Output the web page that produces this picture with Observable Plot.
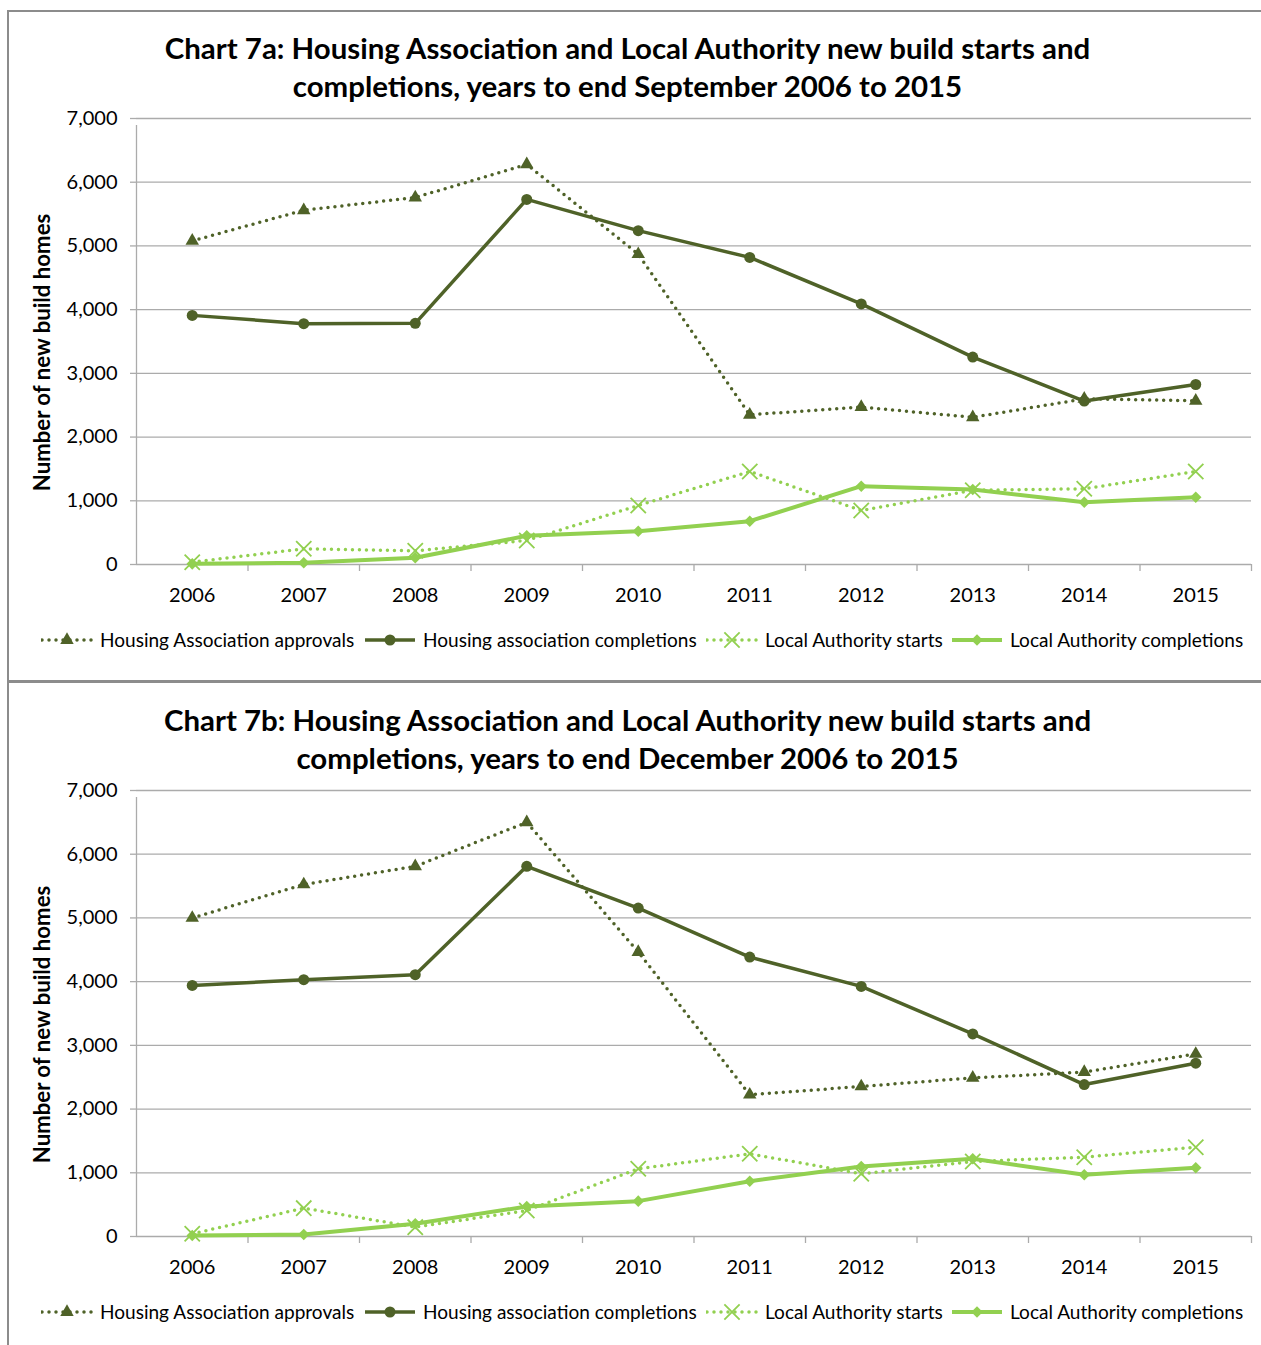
<!DOCTYPE html>
<html>
<head>
<meta charset="utf-8">
<script src="https://cdn.jsdelivr.net/npm/d3@7"></script>
<script src="https://cdn.jsdelivr.net/npm/@observablehq/plot@0.6"></script>
<style>
  html, body { margin: 0; padding: 0; background: #fff; }
  body { width: 1261px; height: 1345px; position: relative; overflow: hidden; font-family: Lato, "Open Sans", sans-serif; color: #000; }
  .abs { position: absolute; white-space: nowrap; }
  .frame { position: absolute; left: 7px; width: 1254px; border-left: 2px solid #8c8c8c; box-sizing: border-box; }
</style>
</head>
<body>
<script>
// ---------- data ----------
const years = [2006, 2007, 2008, 2009, 2010, 2011, 2012, 2013, 2014, 2015];
const yTicks = [0, 1000, 2000, 3000, 4000, 5000, 6000, 7000];
const seriesNames = [
  "Housing Association approvals",
  "Housing association completions",
  "Local Authority starts",
  "Local Authority completions"
];
const yLabel = "Number of new build homes";

// Chart 7a: years to end September
const titleA = ["Chart 7a: Housing Association and Local Authority new build starts and",
                "completions, years to end September 2006 to 2015"];
const haApprovalsSep   = [5080, 5560, 5760, 6280, 4870, 2350, 2470, 2310, 2600, 2570];
const haCompletionsSep = [3910, 3780, 3785, 5730, 5240, 4820, 4090, 3255, 2565, 2825];
const laStartsSep      = [36, 246, 215, 377, 926, 1460, 848, 1165, 1188, 1460];
const laCompletionsSep = [10, 26, 105, 450, 523, 680, 1229, 1177, 978, 1057];

// Chart 7b: years to end December
const titleB = ["Chart 7b: Housing Association and Local Authority new build starts and",
                "completions, years to end December 2006 to 2015"];
const haApprovalsDec   = [5000, 5525, 5810, 6500, 4465, 2225, 2355, 2490, 2580, 2865];
const haCompletionsDec = [3940, 4030, 4110, 5810, 5155, 4385, 3925, 3180, 2385, 2720];
const laStartsDec      = [42, 445, 147, 408, 1062, 1298, 984, 1177, 1245, 1402];
const laCompletionsDec = [16, 31, 199, 471, 555, 868, 1099, 1219, 968, 1078];

// ---------- styles ----------
const DARK = "#4f6228";
const LIGHT = "#92d050";
const GRID = "#ababab";
const FONT = "Lato";
const R = {tri: 5, circ: 5.5, x: 7, dia: 5.2};

const cv = document.createElement("canvas").getContext("2d");
function fit(text, weight, target) {
  cv.font = `${weight} 100px ${FONT}`;
  return 100 * target / cv.measureText(text).width;
}
const fsTitle = fit(titleA[0], "bold", 929);
const fsLegend = fit(seriesNames[0], "normal", 255);
const fsYLabel = fit(yLabel, "bold", 279);
const fsTick = 20;

function rows(vals) { return years.map((y, i) => ({year: y, value: vals[i]})); }

function addText(text, cx, cy, size, weight) {
  const d = document.createElement("div");
  d.className = "abs";
  d.textContent = text;
  const lh = Math.round(size * 1.3);
  d.style.cssText = `left:${cx - 1000}px;width:2000px;text-align:center;top:${cy - lh / 2}px;line-height:${lh}px;font-size:${size}px;font-weight:${weight};font-family:${FONT};`;
  document.body.appendChild(d);
}

function swatch(kind) {
  const ns = "http://www.w3.org/2000/svg";
  const svg = document.createElementNS(ns, "svg");
  svg.setAttribute("width", 52); svg.setAttribute("height", 20);
  svg.style.display = "block";
  const color = kind < 2 ? DARK : LIGHT;
  const ln = document.createElementNS(ns, "line");
  ln.setAttribute("x1", 1); ln.setAttribute("x2", 51); ln.setAttribute("y1", 10); ln.setAttribute("y2", 10);
  ln.setAttribute("stroke", color);
  ln.setAttribute("stroke-width", kind === 3 ? 4 : 3.5);
  if (kind === 0 || kind === 2) { ln.setAttribute("stroke-dasharray", "0 7"); ln.setAttribute("stroke-linecap", "round"); }
  svg.appendChild(ln);
  const sym = [d3.symbolTriangle, d3.symbolCircle, d3.symbolTimes, d3.symbolDiamond2][kind];
  const r = [R.tri, R.circ, R.x, R.dia][kind];
  const p = document.createElementNS(ns, "path");
  p.setAttribute("d", d3.symbol(sym, Math.PI * r * r)());
  p.setAttribute("transform", "translate(26,10)");
  if (kind === 2) { p.setAttribute("fill", "none"); p.setAttribute("stroke", color); p.setAttribute("stroke-width", 1.8); }
  else p.setAttribute("fill", color);
  svg.appendChild(p);
  return svg;
}

function legend(cy) {
  const xs = [42, 365, 707, 952];
  seriesNames.forEach((name, k) => {
    const d = document.createElement("div");
    d.className = "abs";
    d.style.cssText = `left:${xs[k] - 1}px;top:${cy - 10}px;height:20px;display:flex;align-items:center;gap:7px;`;
    d.appendChild(swatch(k));
    const s = document.createElement("span");
    s.textContent = name;
    s.style.cssText = `font-size:${fsLegend}px;font-family:${FONT};line-height:20px;`;
    d.appendChild(s);
    document.body.appendChild(d);
  });
}

function chart(a, b, c, e) {
  const W = 1261, mL = 136, mR = 10, mT = 18, ph = 446, mB = 46;
  const step = (W - mL - mR) / years.length;
  return Plot.plot({
    width: W, height: mT + ph + mB,
    marginLeft: mL, marginRight: mR, marginTop: mT, marginBottom: mB,
    style: {fontFamily: FONT, fontSize: fsTick + "px", color: "#000", background: "transparent", overflow: "visible"},
    x: {type: "point", domain: years, padding: 0.5, round: false},
    y: {domain: [0, 7000]},
    marks: [
      Plot.gridY(yTicks, {stroke: GRID, strokeOpacity: 1, strokeWidth: 1.3}),
      Plot.ruleX([years[0]], {dx: -step / 2, y1: 0, y2: 7000, insetBottom: -7, stroke: GRID, strokeWidth: 1.3}),
      Plot.axisY({ticks: yTicks, tickSize: 6, tickPadding: 13, tickFormat: d3.format(","), label: null, stroke: GRID, strokeWidth: 1.3, fill: "#000"}),
      Plot.axisX({ticks: years, tickSize: 7, dx: step / 2, tickFormat: () => "", label: null, stroke: GRID, strokeWidth: 1.3}),
      Plot.axisX({ticks: years, tickSize: 0, tickPadding: 23, tickFormat: d => String(d), label: null, fill: "#000"}),
      Plot.text([yLabel], {frameAnchor: "left", textAnchor: "middle", lineAnchor: "middle", rotate: -90, dx: -94, dy: 11, fontWeight: "bold", fontSize: fsYLabel, fill: "#000"}),
      // HA approvals
      Plot.line(rows(a), {x: "year", y: "value", stroke: DARK, strokeWidth: 3.5, strokeDasharray: "0 7", strokeLinecap: "round"}),
      Plot.dot(rows(a), {x: "year", y: "value", symbol: "triangle", r: R.tri, fill: DARK}),
      // HA completions
      Plot.line(rows(b), {x: "year", y: "value", stroke: DARK, strokeWidth: 3.5}),
      Plot.dot(rows(b), {x: "year", y: "value", symbol: "circle", r: R.circ, fill: DARK}),
      // LA starts
      Plot.line(rows(c), {x: "year", y: "value", stroke: LIGHT, strokeWidth: 3.5, strokeDasharray: "0 7", strokeLinecap: "round"}),
      Plot.dot(rows(c), {x: "year", y: "value", symbol: "times", r: R.x, stroke: LIGHT, strokeWidth: 1.8, fill: "none"}),
      // LA completions
      Plot.line(rows(e), {x: "year", y: "value", stroke: LIGHT, strokeWidth: 4}),
      Plot.dot(rows(e), {x: "year", y: "value", symbol: "diamond2", r: R.dia, fill: LIGHT})
    ]
  });
}

function panel(oy, titles, series) {
  addText(titles[0], 627.5, oy + 48, fsTitle, "bold");
  addText(titles[1], 627.5, oy + 86, fsTitle, "bold");
  const svg = chart(...series);
  svg.style.position = "absolute";
  svg.style.left = "0px";
  svg.style.top = (oy + 100) + "px";
  document.body.appendChild(svg);
  legend(oy + 640);
}

// frames
const f1 = document.createElement("div");
f1.className = "frame";
f1.style.cssText += "top:10px;height:672px;border-top:2px solid #8c8c8c;";
document.body.appendChild(f1);
const f2 = document.createElement("div");
f2.className = "frame";
f2.style.cssText += "top:680px;height:665px;border-top:3px solid #8c8c8c;";
document.body.appendChild(f2);

panel(0, titleA, [haApprovalsSep, haCompletionsSep, laStartsSep, laCompletionsSep]);
panel(672, titleB, [haApprovalsDec, haCompletionsDec, laStartsDec, laCompletionsDec]);
</script>
</body>
</html>
